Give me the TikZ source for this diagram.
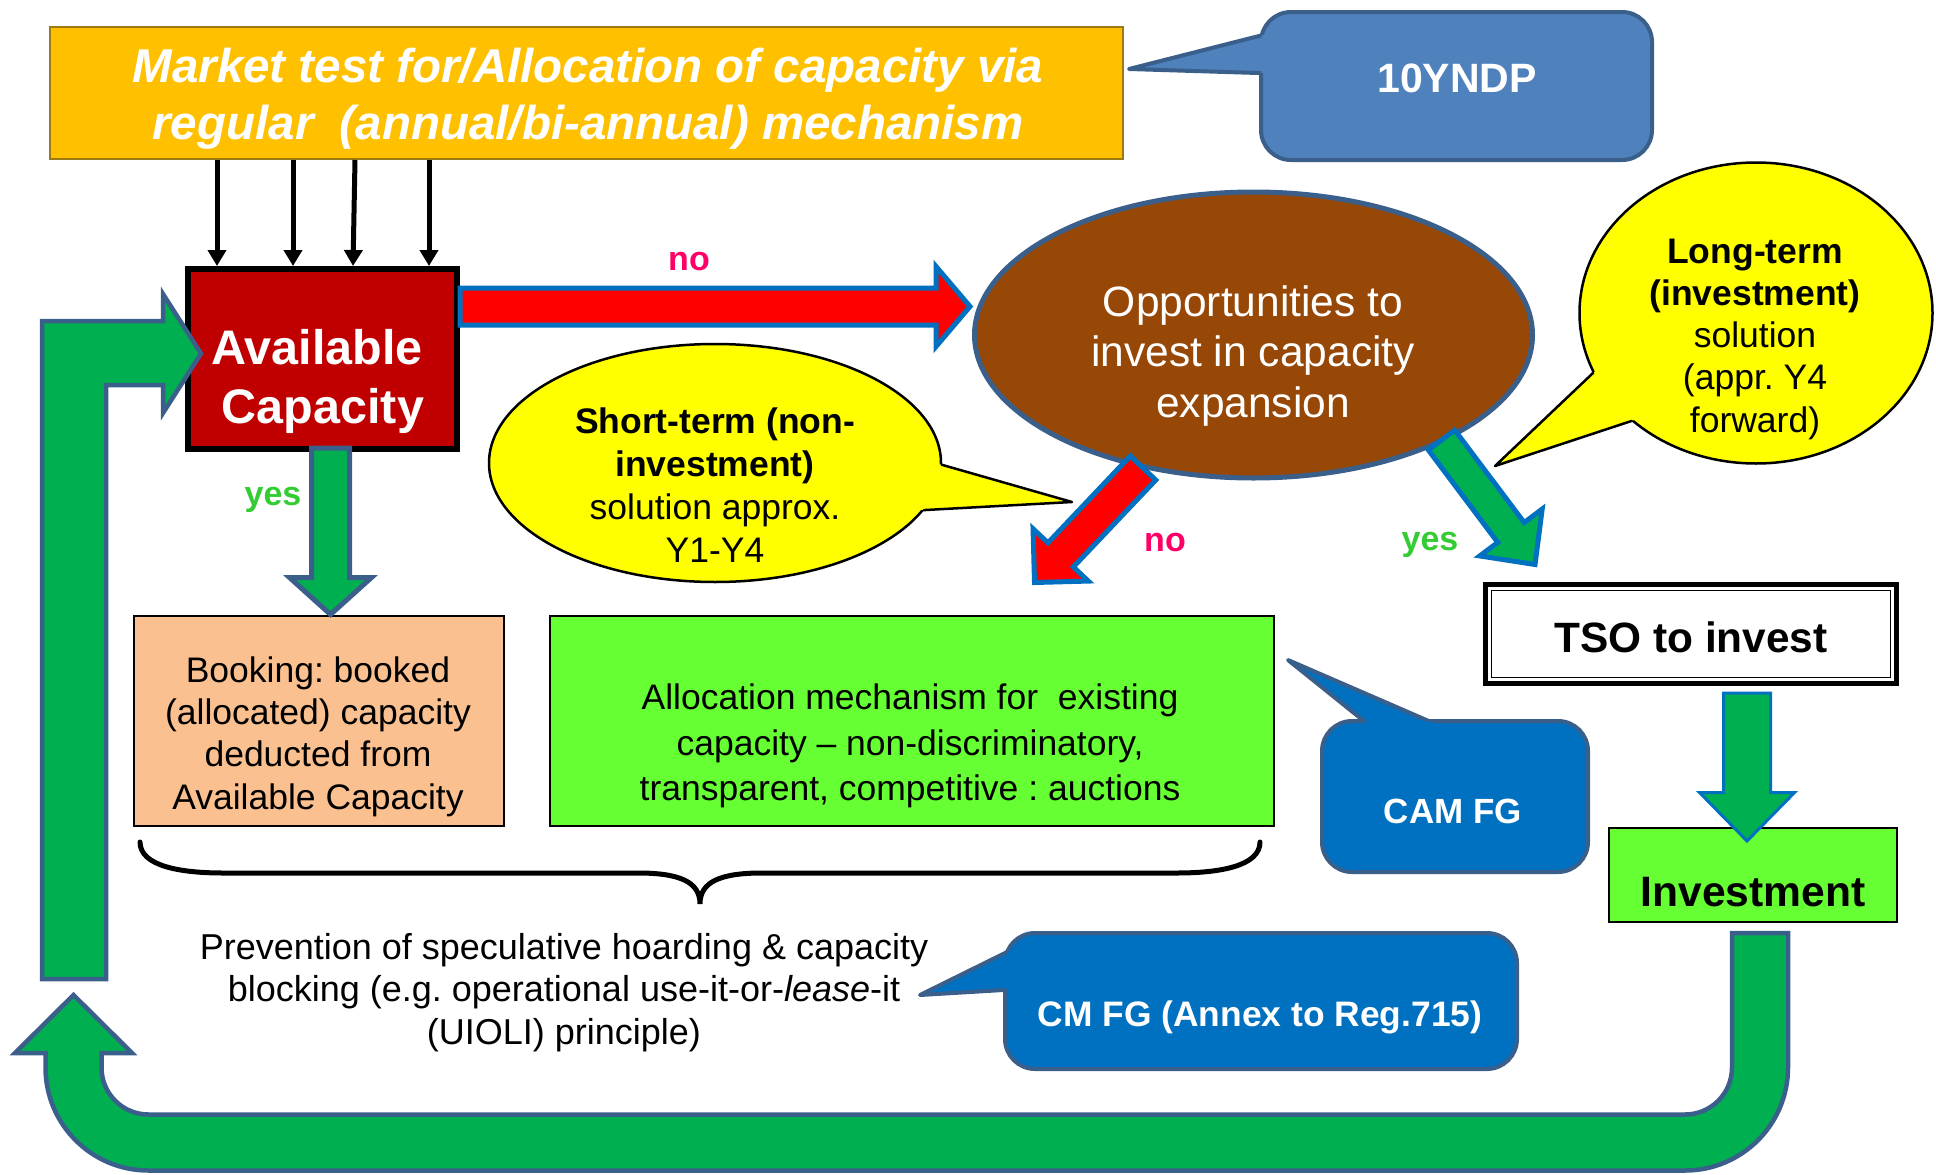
\documentclass[tikz,border=0pt]{standalone}
\usepackage{fontspec}
\setmainfont{Liberation Sans}
\usetikzlibrary{arrows.meta,calc,shapes.geometric}
\frenchspacing

\definecolor{mktorange}{HTML}{FFC000}
\definecolor{mktedge}{HTML}{9C7B14}
\definecolor{availred}{HTML}{C00000}
\definecolor{arrowred}{HTML}{FF0000}
\definecolor{edgeblue}{HTML}{0070C0}
\definecolor{slateedge}{HTML}{3A5F8B}
\definecolor{oppbrown}{HTML}{974706}
\definecolor{ndpblue}{HTML}{4F81BD}
\definecolor{fgblue}{HTML}{0070C0}
\definecolor{noteyellow}{HTML}{FFFF00}
\definecolor{bookpeach}{HTML}{FAC090}
\definecolor{limegreen}{HTML}{66FF33}
\definecolor{flowgreen}{HTML}{00B050}
\definecolor{nopink}{HTML}{FF0066}
\definecolor{yesgreen}{HTML}{33CC33}

\tikzset{
  txt/.style={inner sep=0pt, anchor=base, font=\fontsize{35.5}{42}\selectfont},
  txtbig/.style={inner sep=0pt, anchor=base, font=\fontsize{42.5}{51}\selectfont},
  lbl/.style={inner sep=0pt, anchor=base, font=\fontsize{34}{40}\selectfont\bfseries},
  plainbox/.style={rectangle, draw=black, line width=2pt, inner sep=0pt},
  feed/.style={line width=5pt, -{Triangle[width=18pt,length=16pt]}},
  redflow/.style={fill=arrowred, draw=edgeblue, line width=5pt, line join=miter},
  greenflow/.style={fill=flowgreen, draw=edgeblue, line width=5pt, line join=miter},
  slateflow/.style={fill=flowgreen, draw=slateedge, line width=4.5pt, line join=miter},
  calloutedge/.style={draw=slateedge, line width=4pt, line join=round},
  noteedge/.style={draw=black, line width=2.5pt, line join=round},
}

% block arrow: style, tail, tip, half shaft width, half head width, head length
\newcommand\blockarrow[6]{%
  \coordinate (ba-base) at ($(#3)!#6!(#2)$);
  \draw[#1] ($(#2)!#4!90:(#3)$) -- ($(ba-base)!#4!90:(#3)$) -- ($(ba-base)!#5!90:(#3)$)
    -- (#3) -- ($(ba-base)!#5!-90:(#3)$) -- ($(ba-base)!#4!-90:(#3)$) -- ($(#2)!#4!-90:(#3)$) -- cycle;
}

% rounded speech box: fill, corner, corner, tail tip, two tail base points inside the box
\newcommand\roundcallout[6]{%
  \fill[#1] [rounded corners=30pt] (#2) rectangle (#3);
  \fill[#1] (#4) -- (#5) -- (#6) -- cycle;
  \begin{scope}[even odd rule]
    \clip (0,0) rectangle (1936,1175) (#4) -- (#5) -- (#6) -- cycle;
    \draw[calloutedge, rounded corners=30pt] (#2) rectangle (#3);
  \end{scope}
  \begin{scope}[even odd rule]
    \clip (0,0) rectangle (1936,1175) [rounded corners=30pt] (#2) rectangle (#3);
    \draw[calloutedge] (#5) -- (#4) -- (#6);
  \end{scope}
}

% oval speech bubble: centre, x radius, y radius, tail tip, two tail base points inside the oval
\newcommand\ovalcallout[6]{%
  \fill[noteyellow] (#1) ellipse [x radius=#2, y radius=#3];
  \fill[noteyellow] (#4) -- (#5) -- (#6) -- cycle;
  \begin{scope}[even odd rule]
    \clip (0,0) rectangle (1936,1175) (#4) -- (#5) -- (#6) -- cycle;
    \draw[noteedge] (#1) ellipse [x radius=#2, y radius=#3];
  \end{scope}
  \begin{scope}[even odd rule]
    \clip (0,0) rectangle (1936,1175) (#1) ellipse [x radius=#2, y radius=#3];
    \draw[noteedge] (#5) -- (#4) -- (#6);
  \end{scope}
}

\begin{document}
\begin{tikzpicture}[x=1pt,y=-1pt]
\useasboundingbox (0,0) rectangle (1936,1175);

% market test banner
\node[rectangle, draw=mktedge, line width=2pt, fill=mktorange, inner sep=0pt,
      minimum width=1073pt, minimum height=132pt] (market) at (586.5,93) {};
\node[inner sep=0pt, anchor=base, text=white, font=\fontsize{47.5}{56}\selectfont\bfseries\itshape]
  (market-1) at (588,82) {Market test for/Allocation of capacity via};
\node[inner sep=0pt, anchor=base, text=white, font=\fontsize{47.5}{56}\selectfont\bfseries\itshape]
  (market-2) at (588,139) {regular\ \ (annual/bi-annual) mechanism};

% 10YNDP speech box
\roundcallout{ndpblue}{1261,12}{1652,160}{1129,69}{1300,25.6}{1300,74.3}
\node[inner sep=0pt, anchor=base, text=white, font=\fontsize{41}{48}\selectfont\bfseries]
  (ndp) at (1457,92) {10YNDP};

% available capacity
\node[rectangle, draw=black, line width=6pt, fill=availred, inner sep=0pt,
      minimum width=269pt, minimum height=180pt] (avail) at (322.5,359) {};
\node[inner sep=0pt, anchor=base, text=white, font=\fontsize{48.5}{58}\selectfont\bfseries]
  (avail-1) at (317,364) {Available};
\node[inner sep=0pt, anchor=base, text=white, font=\fontsize{48.5}{58}\selectfont\bfseries]
  (avail-2) at (323,423) {Capacity};

% feeds from the market test
\draw[feed] (217,0 |- market.south) -- (217,0 |- avail.north);
\draw[feed] (293,0 |- market.south) -- (293,0 |- avail.north);
\draw[feed] (355,0 |- market.south) -- (353,0 |- avail.north);
\draw[feed] (429,0 |- market.south) -- (429,0 |- avail.north);

% investment opportunities
\node[ellipse, draw=slateedge, line width=5pt, fill=oppbrown, inner sep=0pt,
      minimum width=558pt, minimum height=286pt] (opp) at (1253.5,335) {};
\foreach \t [count=\i] in {{Opportunities to},{invest in capacity},{expansion}}
  \node[txtbig, text=white] (opp-\i) at (1253,{316+50.5*(\i-1)}) {\t};

% short-term and long-term notes
\ovalcallout{715,463}{226pt}{119pt}{1072,502}{900,452.8}{900,511.4}
\foreach \t [count=\i] in {{\bfseries Short-term (non-},{\bfseries investment)},{solution approx.},{Y1-Y4}}
  \node[txt] (short-\i) at (715,{433+43*(\i-1)}) {\t};

\ovalcallout{1756,313}{176.5pt}{150.5pt}{1495,466}{1640,328.4}{1680,405}
\foreach \t [count=\i] in {{\bfseries Long-term},{\bfseries (investment)},{solution},{(appr. Y4},{forward)}}
  \node[txt] (long-\i) at (1755,{263+42.25*(\i-1)}) {\t};

% booking and allocation boxes
\node[plainbox, fill=bookpeach, minimum width=370pt, minimum height=210pt] (booking) at (319,721) {};
\foreach \t [count=\i] in {{Booking: booked},{(allocated) capacity},{deducted from},{Available Capacity}}
  \node[txt] (booking-\i) at (318,{682.5+42.2*(\i-1)}) {\t};

\node[plainbox, fill=limegreen, minimum width=724pt, minimum height=210pt] (alloc) at (912,721) {};
\node[txt] (alloc-1) at (910,709) {Allocation mechanism for\ \ existing};
\node[txt] (alloc-2) at (910,755) {capacity – non-discriminatory,};
\node[txt] (alloc-3) at (910,800) {transparent, competitive : auctions};

% guideline speech boxes
\roundcallout{fgblue}{1322,721}{1588,872}{1288,660}{1400,750}{1495.6,750}
\node[inner sep=0pt, anchor=base, text=white, font=\fontsize{35}{42}\selectfont\bfseries]
  (camfg) at (1453,823) {CAM FG};
\roundcallout{fgblue}{1005,933}{1517,1069}{920,995}{1030,940.7}{1030,988.4}
\node[inner sep=0pt, anchor=base, text=white, font=\fontsize{35.4}{42}\selectfont\bfseries]
  (cmfg) at (1260,1026) {CM FG (Annex to Reg.715)};

% TSO and investment
\node[rectangle, draw=black, line width=5pt, fill=white, inner sep=0pt,
      minimum width=411pt, minimum height=99pt] (tso) at (1691,634) {};
\draw[line width=1.5pt] ($(tso.north west)+(8.5,8.5)$) rectangle ($(tso.south east)+(-8.5,-8.5)$);
\node[inner sep=0pt, anchor=base, font=\fontsize{42.4}{50}\selectfont\bfseries]
  (tso-text) at (1691,652) {TSO to invest};

\node[plainbox, fill=limegreen, minimum width=288pt, minimum height=94pt] (invest) at (1753,875) {};
\node[inner sep=0pt, anchor=base, font=\fontsize{42.6}{50}\selectfont\bfseries]
  (invest-text) at (1753,906) {Investment};

% brace under both boxes
\draw[line width=5pt, line cap=round] (140,842) .. controls (140,866) and (180,873) .. (223,873)
  -- (638,873) .. controls (680,873) and (700,882) .. (700,904)
  .. controls (700,882) and (720,873) .. (762,873)
  -- (1177,873) .. controls (1220,873) and (1260,866) .. (1260,842);
\node[txt, font=\fontsize{36}{42}\selectfont] (prev-1) at (564,959) {Prevention of speculative hoarding \& capacity};
\node[txt, font=\fontsize{36}{42}\selectfont] (prev-2) at (564,1001.5) {blocking (e.g. operational use-it-or-\textit{lease}-it};
\node[txt, font=\fontsize{36}{42}\selectfont] (prev-3) at (564,1044) {(UIOLI) principle)};

% return path from investment back to available capacity
\draw[slateflow] (1732,933) -- (1732,1067.5) .. controls (1732,1093.5) and (1711,1114.5) .. (1685,1114.5)
  -- (148.5,1114.5) .. controls (122.5,1114.5) and (101.5,1093.5) .. (101.5,1067.5)
  -- (101.5,1053) -- (132,1053) -- (73.5,995) -- (15,1053) -- (45.5,1053) -- (45.5,1067.5)
  .. controls (45.5,1124.4) and (91.6,1170.5) .. (148.5,1170.5)
  -- (1685,1170.5) .. controls (1741.9,1170.5) and (1788,1124.4) .. (1788,1067.5)
  -- (1788,933) -- cycle;
\draw[slateflow] (42,979) -- (42,321) -- (163,321) -- (163,294) -- (201,353.5) -- (163,413)
  -- (163,385) -- (106,385) -- (106,979) -- cycle;

% decision arrows
\coordinate (yes1-tail) at (330.5,448);
\coordinate (yes1-tip) at (330.5,614.5);
\blockarrow{slateflow, line width=5pt}{yes1-tail}{yes1-tip}{19pt}{41pt}{37pt}

\coordinate (no1-tail) at (460,306.5);
\coordinate (no1-tip) at (970,306.5);
\blockarrow{redflow}{no1-tail}{no1-tip}{18.5pt}{40pt}{34pt}

\coordinate (no2-tail) at (1143,468);
\coordinate (no2-tip) at (1034.5,582.5);
\blockarrow{redflow}{no2-tail}{no2-tip}{17.5pt}{38pt}{38pt}

\coordinate (yes2-tail) at (1441.5,440);
\coordinate (yes2-tip) at (1535,564.5);
\blockarrow{greenflow}{yes2-tail}{yes2-tip}{16.5pt}{39pt}{40pt}

\coordinate (tso-out) at (1747,693);
\coordinate (invest-in) at (1747,841);
\blockarrow{greenflow, line width=3pt}{tso-out}{invest-in}{23.5pt}{47.5pt}{48.5pt}

% branch labels
\node[lbl, text=nopink] (no1-label) at (689,270) {no};
\node[lbl, text=nopink] (no2-label) at (1165,551) {no};
\node[lbl, text=yesgreen] (yes1-label) at (273,505) {yes};
\node[lbl, text=yesgreen] (yes2-label) at (1430,550) {yes};

\end{tikzpicture}
\end{document}
